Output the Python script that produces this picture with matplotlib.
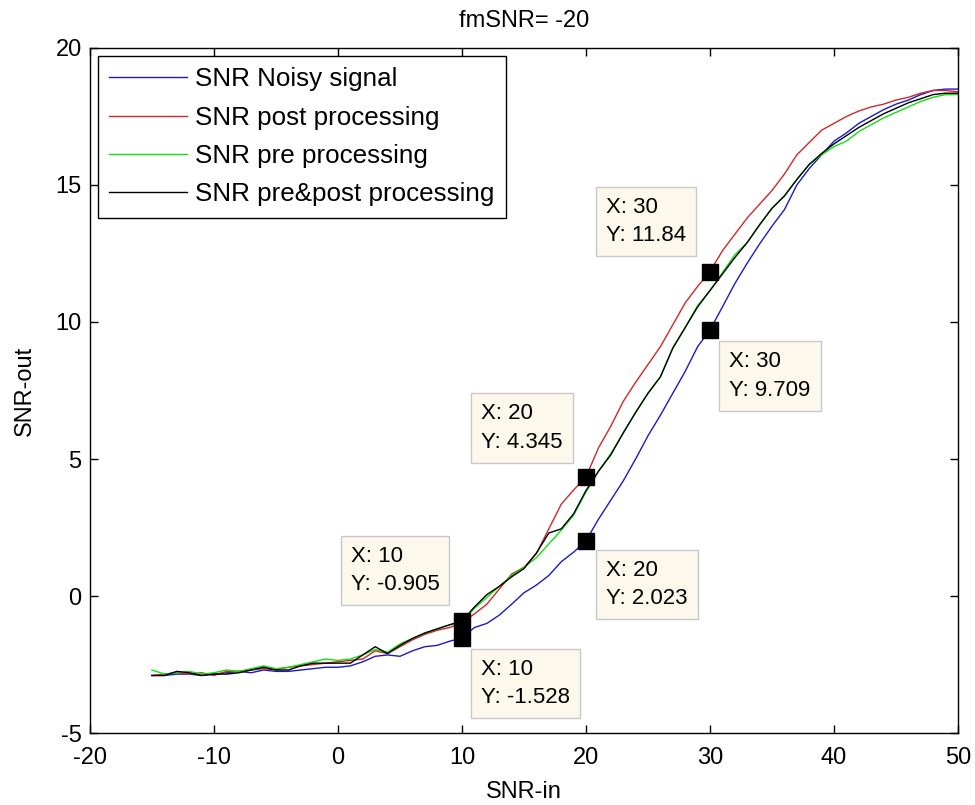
import numpy as np
import matplotlib.pyplot as plt

plt.rcParams['font.family'] = ['Liberation Sans', 'DejaVu Sans']
plt.rcParams['axes.unicode_minus'] = False

snr_in = list(range(-15, 51))

snr_noisy = [-2.90, -2.90, -2.85, -2.85, -2.90, -2.85, -2.80, -2.75, -2.80, -2.70,
             -2.75, -2.75, -2.70, -2.65, -2.60, -2.60, -2.55, -2.40, -2.20, -2.15,
             -2.20, -2.00, -1.85, -1.80, -1.65, -1.53, -1.15, -1.00, -0.70, -0.30,
             0.12, 0.40, 0.75, 1.25, 1.60, 2.02, 2.80, 3.50, 4.20, 5.00,
             5.85, 6.60, 7.40, 8.20, 9.10, 9.71, 10.55, 11.40, 12.15, 12.85,
             13.50, 14.10, 15.00, 15.60, 16.10, 16.60, 16.90, 17.25, 17.50, 17.75,
             17.95, 18.10, 18.30, 18.45, 18.50, 18.50]

snr_post = [-2.90, -2.85, -2.80, -2.85, -2.80, -2.90, -2.75, -2.75, -2.70, -2.65,
            -2.70, -2.60, -2.55, -2.50, -2.45, -2.40, -2.35, -2.30, -2.00, -2.10,
            -1.85, -1.60, -1.40, -1.25, -1.15, -0.98, -0.65, -0.30, 0.25, 0.80,
            1.05, 1.55, 2.45, 3.35, 3.87, 4.35, 5.40, 6.20, 7.10, 7.80,
            8.45, 9.10, 9.90, 10.70, 11.30, 11.84, 12.60, 13.20, 13.80, 14.30,
            14.80, 15.40, 16.10, 16.55, 17.00, 17.25, 17.50, 17.70, 17.85, 17.95,
            18.10, 18.20, 18.35, 18.45, 18.45, 18.40]

snr_pre = [-2.70, -2.85, -2.80, -2.75, -2.85, -2.80, -2.70, -2.75, -2.65, -2.55,
           -2.65, -2.60, -2.50, -2.40, -2.30, -2.35, -2.30, -2.15, -1.95, -2.05,
           -1.75, -1.55, -1.35, -1.20, -1.05, -0.95, -0.45, -0.05, 0.35, 0.75,
           1.05, 1.40, 1.90, 2.40, 2.95, 3.80, 4.55, 5.20, 5.95, 6.70,
           7.40, 8.00, 9.05, 9.80, 10.60, 11.15, 11.80, 12.45, 12.90, 13.55,
           14.15, 14.60, 15.20, 15.75, 16.10, 16.40, 16.60, 16.95, 17.20, 17.45,
           17.65, 17.85, 18.05, 18.20, 18.30, 18.30]

snr_prepost = [-2.90, -2.90, -2.75, -2.80, -2.90, -2.85, -2.85, -2.80, -2.70, -2.60,
               -2.70, -2.70, -2.55, -2.45, -2.45, -2.45, -2.45, -2.15, -1.85, -2.10,
               -1.80, -1.55, -1.35, -1.20, -1.05, -0.91, -0.40, 0.05, 0.35, 0.70,
               1.00, 1.57, 2.30, 2.45, 3.00, 3.85, 4.55, 5.15, 5.95, 6.70,
               7.40, 8.00, 9.05, 9.80, 10.55, 11.15, 11.75, 12.35, 12.90, 13.55,
               14.15, 14.60, 15.20, 15.75, 16.15, 16.50, 16.80, 17.10, 17.35, 17.60,
               17.80, 18.00, 18.15, 18.30, 18.35, 18.35]

labels = ["SNR Noisy signal", "SNR post processing", "SNR pre processing",
          "SNR pre&post processing"]

# data tips
tip_x = [10, 10, 20, 20, 30, 30]
tip_y = [-0.905, -1.528, 4.345, 2.023, 11.84, 9.709]
tip_txt = ["-0.905", "-1.528", "4.345", "2.023", "11.84", "9.709"]
tip_off = [(-67, 50), (63, -46), (-64, 49), (61, -44), (-64, 50), (60, -46)]

fig = plt.figure(figsize=(9.75, 8.05), dpi=100)
ax = fig.add_axes([0.0923, 0.0894, 0.8903, 0.851])

ax.plot(snr_in, snr_noisy, color='#1a1ac8', lw=1, label=labels[0])
ax.plot(snr_in, snr_post, color='#d02828', lw=1, label=labels[1])
ax.plot(snr_in, snr_pre, color='#10e010', lw=1, label=labels[2])
ax.plot(snr_in, snr_prepost, color='black', lw=1, label=labels[3])

ax.plot(tip_x, tip_y, 's', color='black', ms=11.5, ls='none')
for x, y, t, off in zip(tip_x, tip_y, tip_txt, tip_off):
    ax.annotate("X: %d\nY: %s" % (x, t), (x, y), xytext=off,
                textcoords='offset pixels', ha='center', va='center',
                multialignment='left', fontsize=16, linespacing=1.45,
                bbox=dict(boxstyle='square,pad=0.45', fc='#fdf8ec', ec='#c8c8c8', lw=1))

ax.set_xlim(-20, 50)
ax.set_ylim(-5, 20)
ax.set_xticks(np.arange(-20, 51, 10))
ax.set_yticks(np.arange(-5, 21, 5))
ax.tick_params(direction='in', length=6, width=1, top=True, right=True,
               labelsize=17)
ax.tick_params(axis='x', pad=10)
ax.tick_params(axis='y', pad=6)
for s in ax.spines.values():
    s.set_linewidth(1)

ax.set_title("fmSNR= -20", fontsize=17, pad=15)
ax.set_xlabel("SNR-in", fontsize=17, labelpad=9)
ax.set_ylabel("SNR-out", fontsize=17, labelpad=14)

leg = ax.legend(loc='upper left', fontsize=18.7, handlelength=3.0, handletextpad=0.3,
                labelspacing=0.55, borderpad=0.45, fancybox=False, framealpha=1,
                edgecolor='black', borderaxespad=0.3)
leg.get_frame().set_linewidth(1)

fig.savefig("out.png", dpi=100)
